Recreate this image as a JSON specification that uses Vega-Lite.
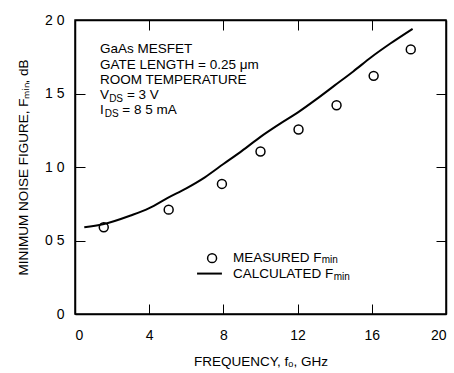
{
 "$schema": "https://vega.github.io/schema/vega-lite/v6.json",
 "width": 371, "height": 294,
 "autosize": "none",
 "padding": {"left": 75, "top": 20, "right": 8, "bottom": 59},
 "background": "white",
 "config": {
  "view": {"stroke": "black", "strokeWidth": 1.5},
  "axis": {"grid": false, "domainColor": "black", "domainWidth": 1.5, "tickColor": "black", "tickSize": -10, "tickWidth": 1,
           "labelColor": "black", "titleColor": "black", "labelFont": "Liberation Sans", "titleFont": "Liberation Sans",
           "labelFontSize": 14, "titleFontSize": 13.5, "titleFontWeight": "normal"},
  "text": {"font": "Liberation Sans", "color": "black"}
 },
 "datasets": {
  "calculated": [
   {"f": 0.5, "nf": 0.59}, {"f": 1.5, "nf": 0.61}, {"f": 3, "nf": 0.67}, {"f": 4, "nf": 0.72}, {"f": 5, "nf": 0.79},
   {"f": 6, "nf": 0.855}, {"f": 7, "nf": 0.93}, {"f": 8, "nf": 1.02}, {"f": 9, "nf": 1.11}, {"f": 10, "nf": 1.205},
   {"f": 11, "nf": 1.29}, {"f": 12, "nf": 1.37}, {"f": 13, "nf": 1.46}, {"f": 14, "nf": 1.555}, {"f": 15, "nf": 1.65},
   {"f": 16, "nf": 1.75}, {"f": 17, "nf": 1.84}, {"f": 18.2, "nf": 1.94}
  ],
  "measured": [
   {"f": 1.55, "nf": 0.59}, {"f": 5.05, "nf": 0.71}, {"f": 7.92, "nf": 0.885}, {"f": 10.0, "nf": 1.105},
   {"f": 12.05, "nf": 1.255}, {"f": 14.1, "nf": 1.42}, {"f": 16.1, "nf": 1.62}, {"f": 18.1, "nf": 1.80}
  ],
  "notes": [
   {"x": 1.35, "y": 1.80, "t": "GaAs MESFET"},
   {"x": 1.35, "y": 1.694, "t": "GATE LENGTH = 0.25 μm"},
   {"x": 1.35, "y": 1.592, "t": "ROOM TEMPERATURE"},
   {"x": 1.35, "y": 1.49, "t": "V"},
   {"x": 2.8, "y": 1.49, "t": "= 3 V"},
   {"x": 1.35, "y": 1.388, "t": "I"},
   {"x": 2.55, "y": 1.388, "t": "= 8 5 mA"}
  ],
  "legtext": [
   {"x": 8.52, "y": 0.38, "t": "MEASURED F"},
   {"x": 8.52, "y": 0.275, "t": "CALCULATED F"}
  ],
  "subs": [
   {"x": 1.84, "y": 1.462, "t": "DS"},
   {"x": 1.6, "y": 1.36, "t": "DS"},
   {"x": 13.3, "y": 0.365, "t": "min"},
   {"x": 13.95, "y": 0.255, "t": "min"}
  ],
  "legsym": [{"x": 7.39, "y": 0.38}],
  "legline": [{"x": 6.58, "x2": 7.92, "y": 0.275}]
 },
 "layer": [
  {
   "data": {"name": "calculated"},
   "mark": {"type": "line", "interpolate": "monotone", "color": "black", "strokeWidth": 2},
   "encoding": {
    "x": {"field": "f", "type": "quantitative", "scale": {"domain": [0, 20], "nice": false},
          "axis": {"values": [0, 4, 8, 12, 16, 20], "title": "FREQUENCY, fₒ, GHz", "labelPadding": 24, "titlePadding": 12}},
    "y": {"field": "nf", "type": "quantitative", "scale": {"domain": [0, 2], "nice": false},
          "axis": {"values": [0, 0.5, 1, 1.5, 2], "title": "MINIMUM NOISE FIGURE, Fₘᵢₙ, dB",
                   "labelExpr": "datum.value == 0 ? '0' : replace(format(datum.value, '.1f'), '.', ' ')",
                   "labelPadding": 21, "titlePadding": 14}}
   }
  },
  {
   "data": {"name": "measured"},
   "mark": {"type": "point", "shape": "circle", "filled": false, "color": "black", "strokeWidth": 1.5, "size": 80, "opacity": 1},
   "encoding": {
    "x": {"field": "f", "type": "quantitative", "scale": {"domain": [0, 20], "nice": false},
          "axis": {"orient": "top", "labels": false, "title": null, "values": [4, 8, 12, 16]}},
    "y": {"field": "nf", "type": "quantitative", "scale": {"domain": [0, 2], "nice": false},
          "axis": {"orient": "right", "labels": false, "title": null, "values": [0.5, 1, 1.5]}}
   }
  },
  {
   "data": {"name": "notes"},
   "mark": {"type": "text", "align": "left", "baseline": "middle", "fontSize": 13.5},
   "encoding": {
    "x": {"field": "x", "type": "quantitative", "axis": null},
    "y": {"field": "y", "type": "quantitative", "axis": null},
    "text": {"field": "t"}
   }
  },
  {
   "data": {"name": "legtext"},
   "mark": {"type": "text", "align": "left", "baseline": "middle", "fontSize": 13.5},
   "encoding": {
    "x": {"field": "x", "type": "quantitative", "axis": null},
    "y": {"field": "y", "type": "quantitative", "axis": null},
    "text": {"field": "t"}
   }
  },
  {
   "data": {"name": "subs"},
   "mark": {"type": "text", "align": "left", "baseline": "middle", "fontSize": 10},
   "encoding": {
    "x": {"field": "x", "type": "quantitative", "axis": null},
    "y": {"field": "y", "type": "quantitative", "axis": null},
    "text": {"field": "t"}
   }
  },
  {
   "data": {"name": "legsym"},
   "mark": {"type": "point", "shape": "circle", "filled": false, "color": "black", "strokeWidth": 1.5, "size": 80, "opacity": 1},
   "encoding": {
    "x": {"field": "x", "type": "quantitative", "axis": null},
    "y": {"field": "y", "type": "quantitative", "axis": null}
   }
  },
  {
   "data": {"name": "legline"},
   "mark": {"type": "rule", "color": "black", "strokeWidth": 2},
   "encoding": {
    "x": {"field": "x", "type": "quantitative", "axis": null},
    "x2": {"field": "x2"},
    "y": {"field": "y", "type": "quantitative", "axis": null}
   }
  }
 ],
 "resolve": {"axis": {"x": "independent", "y": "independent"}}
}
